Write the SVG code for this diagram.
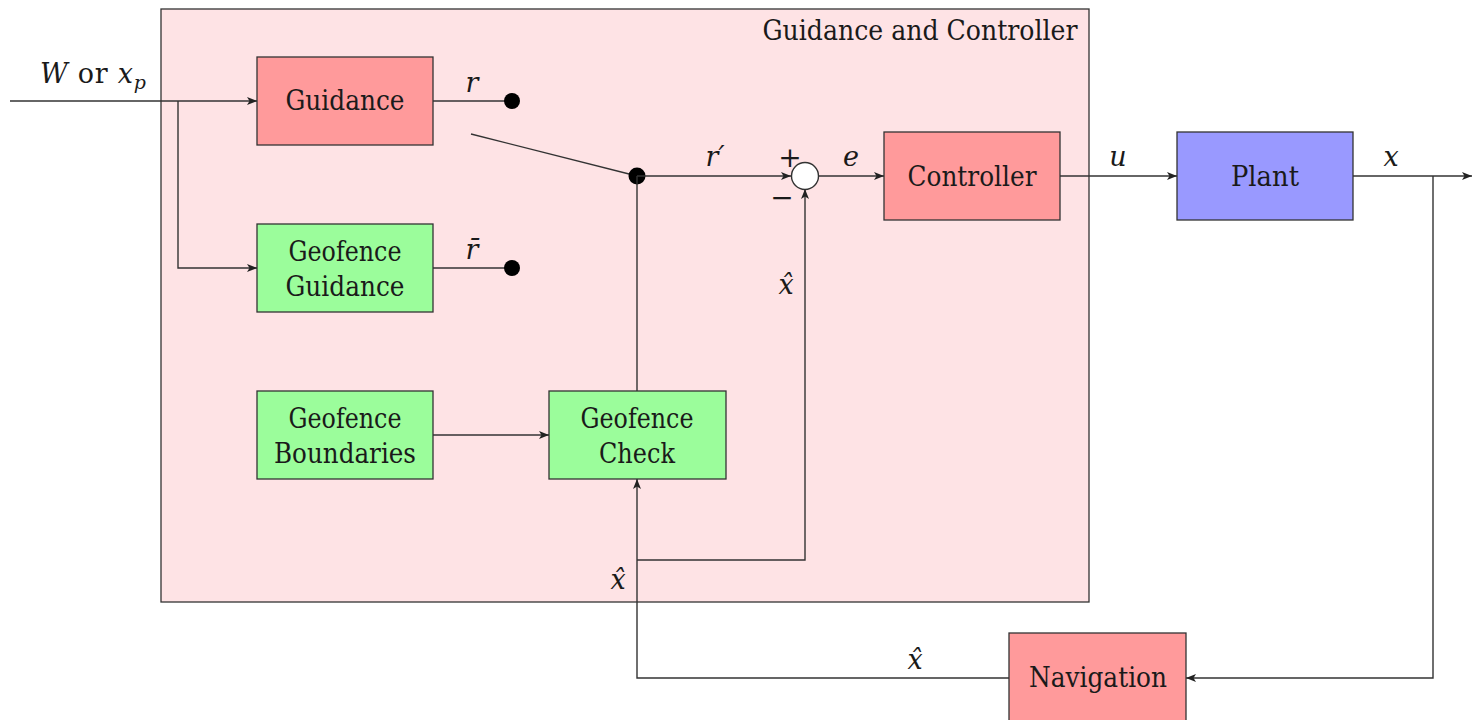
<svg xmlns="http://www.w3.org/2000/svg" width="1474" height="720" viewBox="0 0 1474 720">
  <style>
    .blk { stroke: #333; stroke-width: 1.3; }
    .red { fill: #ff9a9b; }
    .grn { fill: #9bfd9b; }
    .blu { fill: #9999ff; }
    .lbl { font-family: 'DejaVu Serif', 'Liberation Serif', serif; font-size: 27px; fill: #1a1a1a; text-anchor: middle; }
    .math { font-family: 'DejaVu Serif', 'Liberation Serif', serif; font-style: italic; font-size: 27px; fill: #1a1a1a; text-anchor: middle; }
    .wire { fill: none; stroke: #333; stroke-width: 1.4; }
    .arr { fill: none; stroke: #333; stroke-width: 1.4; marker-end: url(#ah); }
    .dot { fill: #000; }
  </style>
  <defs>
    <marker id="ah" viewBox="0 0 10 8" refX="10" refY="4" markerWidth="10" markerHeight="8" markerUnits="userSpaceOnUse" orient="auto">
      <path d="M0,0 L10,4 L0,8 L2.5,4 Z" fill="#222"/>
    </marker>
  </defs>

  <rect width="1474" height="720" fill="#fff"/>

  <!-- container for guidance and control -->
  <g id="guidance-controller">
    <rect x="161" y="9" width="928" height="593" fill="#fee3e5" class="blk"/>
    <text class="lbl" x="920" y="40" textLength="315" lengthAdjust="spacingAndGlyphs">Guidance and Controller</text>
  </g>

  <g id="guidance">
    <rect x="257" y="57" width="176" height="88" class="red blk"/>
    <text class="lbl" x="345" y="110" textLength="119" lengthAdjust="spacingAndGlyphs">Guidance</text>
  </g>
  <g id="geofence-guidance">
    <rect x="257" y="224" width="176" height="88" class="grn blk"/>
    <text class="lbl" x="345" y="261" textLength="113" lengthAdjust="spacingAndGlyphs">Geofence</text>
    <text class="lbl" x="345" y="296" textLength="119" lengthAdjust="spacingAndGlyphs">Guidance</text>
  </g>
  <g id="geofence-boundaries">
    <rect x="257" y="391" width="176" height="88" class="grn blk"/>
    <text class="lbl" x="345" y="428" textLength="113" lengthAdjust="spacingAndGlyphs">Geofence</text>
    <text class="lbl" x="345" y="463" textLength="142" lengthAdjust="spacingAndGlyphs">Boundaries</text>
  </g>
  <g id="geofence-check">
    <rect x="549" y="391" width="177" height="88" class="grn blk"/>
    <text class="lbl" x="637" y="428" textLength="113" lengthAdjust="spacingAndGlyphs">Geofence</text>
    <text class="lbl" x="637" y="463" textLength="76" lengthAdjust="spacingAndGlyphs">Check</text>
  </g>
  <g id="sum">
    <circle cx="805" cy="176" r="13.5" fill="#fff" stroke="#333" stroke-width="1.4"/>
    <text class="lbl" x="790" y="167" style="font-size:28px">+</text>
    <text class="lbl" x="782" y="207" style="font-size:28px">−</text>
  </g>
  <g id="controller">
    <rect x="884" y="132" width="176" height="88" class="red blk"/>
    <text class="lbl" x="972" y="186" textLength="129" lengthAdjust="spacingAndGlyphs">Controller</text>
  </g>
  <g id="plant">
    <rect x="1177" y="132" width="176" height="88" class="blu blk"/>
    <text class="lbl" x="1265" y="186" textLength="68" lengthAdjust="spacingAndGlyphs">Plant</text>
  </g>
  <g id="navigation">
    <rect x="1009" y="633" width="177" height="92" class="red blk"/>
    <text class="lbl" x="1098" y="687" textLength="138" lengthAdjust="spacingAndGlyphs">Navigation</text>
  </g>

  <g id="connectors">
    <!-- reference input and branch -->
    <path class="arr" d="M10,101 H257"/>
    <path class="arr" d="M178,101 V268 H257"/>
    <!-- switch contacts -->
    <path class="wire" d="M433,101 H512"/>
    <path class="wire" d="M433,268 H512"/>
    <circle class="dot" cx="512" cy="101" r="8"/>
    <circle class="dot" cx="512" cy="268" r="8"/>
    <path class="wire" d="M471,134 L637,176"/>
    <circle class="dot" cx="637" cy="176" r="8.5"/>
    <!-- switch command from geofence check -->
    <path class="wire" d="M637,176 V391"/>
    <!-- boundaries into check -->
    <path class="arr" d="M433,435 H549"/>
    <!-- r' to summing junction -->
    <path class="arr" d="M637,176 H791"/>
    <!-- error to controller -->
    <path class="arr" d="M818,176 H884"/>
    <!-- control to plant -->
    <path class="arr" d="M1060,176 H1177"/>
    <!-- plant output -->
    <path class="arr" d="M1353,176 H1472"/>
    <path class="arr" d="M1433,176 V678 H1186"/>
    <!-- navigation estimate feedback -->
    <path class="arr" d="M1009,678 H637 V479"/>
    <path class="arr" d="M637,560 H805 V189"/>
  </g>

  <g id="labels">
    <text class="math" x="93" y="83" style="font-style:normal" textLength="106" lengthAdjust="spacing"><tspan style="font-style:italic">W</tspan> or <tspan style="font-style:italic">x</tspan><tspan style="font-style:italic;font-size:19px" dy="6">p</tspan></text>
    <text class="math" x="472" y="92">r</text>
    <text class="math" x="472" y="259">r̄</text>
    <text class="math" x="715" y="166">r′</text>
    <text class="math" x="851" y="166">e</text>
    <text class="math" x="1118" y="166">u</text>
    <text class="math" x="1391" y="166">x</text>
    <text class="math" x="786" y="294">x̂</text>
    <text class="math" x="618" y="589">x̂</text>
    <text class="math" x="915" y="669">x̂</text>
  </g>
</svg>
